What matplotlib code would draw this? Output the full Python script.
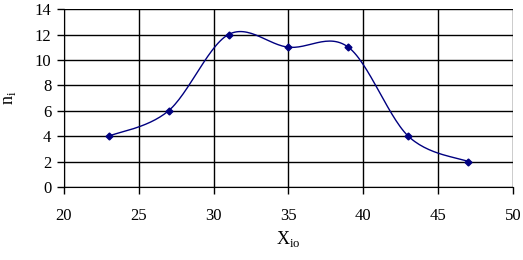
import numpy as np
from matplotlib import pyplot as plt

x_vals = [23, 27, 31, 35, 39, 43, 47]
n_vals = [4, 6, 12, 11, 11, 4, 2]
x_ticks = [20, 25, 30, 35, 40, 45, 50]
y_ticks = [0, 2, 4, 6, 8, 10, 12, 14]

plt.rcParams['font.family'] = ['Liberation Serif', 'DejaVu Serif']
plt.rcParams['mathtext.fontset'] = 'custom'
plt.rcParams['mathtext.rm'] = 'Liberation Serif'


def smooth(xs, ys, steps=30):
    # excel-like smoothed line (catmull-rom through bezier)
    p = np.column_stack([xs, ys]).astype(float)
    p = np.vstack([p[0], p, p[-1]])
    out = []
    t = np.linspace(0, 1, steps)
    for i in range(1, len(p) - 2):
        p0, p3 = p[i], p[i + 1]
        c1 = p0 + (p[i + 1] - p[i - 1]) / 6.0
        c2 = p3 - (p[i + 2] - p[i]) / 6.0
        seg = ((1 - t) ** 3)[:, None] * p0 + (3 * (1 - t) ** 2 * t)[:, None] * c1 \
            + (3 * (1 - t) * t ** 2)[:, None] * c2 + (t ** 3)[:, None] * p3
        out.append(seg)
    out = np.vstack(out)
    return out[:, 0], out[:, 1]


fig = plt.figure(figsize=(5.23, 2.6), dpi=100)
ax = fig.add_axes([0.122, 0.281, 0.859, 0.684])

sx, sy = smooth(x_vals, n_vals)
ax.plot(sx, sy, color='#000080', lw=1)
ax.plot(x_vals, n_vals, 'D', color='#000080', ms=3.5, ls='none')

ax.set_xlim(20, 50)
ax.set_ylim(0, 14)
ax.set_xticks(x_ticks)
ax.set_yticks(y_ticks)
ax.grid(True, color='black', lw=1)
ax.set_axisbelow(True)
for s in ['top', 'right']:
    ax.spines[s].set_visible(False)
ax.tick_params(labelsize=12, length=5, width=1, color='black', pad=10)
ax.tick_params(axis='y', pad=4)

ax.set_xlabel(r'X$_{\mathrm{io}}$', fontsize=13, labelpad=4)
ax.set_ylabel(r'n$_{\mathrm{i}}$', fontsize=13, labelpad=12)

fig.savefig('out.png', dpi=100)
